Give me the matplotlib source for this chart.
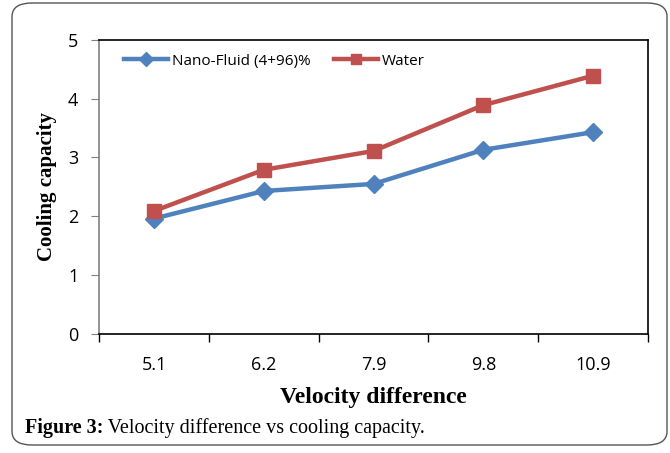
import matplotlib.pyplot as plt
from matplotlib.patches import FancyBboxPatch

categories = ['5.1', '6.2', '7.9', '9.8', '10.9']
nano = [1.96, 2.43, 2.55, 3.13, 3.43]
water = [2.09, 2.79, 3.11, 3.89, 4.39]

fig = plt.figure(figsize=(6.7, 4.53), dpi=100)
ax = fig.add_axes([0.148, 0.263, 0.819, 0.649])

x = list(range(len(categories)))
ax.plot(x, nano, color='#4F81BD', lw=3.2, marker='D', ms=9, label='Nano-Fluid (4+96)%')
ax.plot(x, water, color='#C0504D', lw=3.2, marker='s', ms=10, label='Water')

ax.set_xlim(-0.5, 4.5)
ax.set_ylim(0, 5)
ax.set_yticks(range(6))
ax.set_xticks(x)
ax.set_xticklabels(categories)
ax.set_xticks([i - 0.5 for i in range(6)], minor=True)
ax.tick_params(axis='x', which='major', length=0, pad=16, labelsize=13)
ax.tick_params(axis='x', which='minor', length=6, width=1, color='black', direction='out')
ax.tick_params(axis='y', length=6, color='#808080', labelsize=13, pad=9)
for lbl in ax.get_xticklabels() + ax.get_yticklabels():
    lbl.set_family('Open Sans')

for s in ['top', 'right', 'bottom']:
    ax.spines[s].set_color('black')
    ax.spines[s].set_linewidth(1.2)
ax.spines['left'].set_color('#808080')
ax.spines['left'].set_linewidth(1.2)

ax.set_ylabel('Cooling capacity', family='Liberation Serif', weight='bold', fontsize=15, labelpad=8)
ax.set_xlabel('Velocity difference', family='Liberation Serif', weight='bold', fontsize=17, labelpad=9)

leg = ax.legend(loc='upper left', ncol=2, frameon=False, prop={'family': 'Open Sans', 'size': 11},
                handlelength=2.9, handletextpad=0.25, columnspacing=1.5, bbox_to_anchor=(0.02, 1.0))
for h in leg.legend_handles:
    h.set_markersize(7)

box = FancyBboxPatch((12 / 670, 8 / 453), 655 / 670, 442 / 453, transform=fig.transFigure,
                     boxstyle='round,pad=0,rounding_size=0.03', fill=False, ec='#555555', lw=1)
fig.patches.append(box)

t1 = fig.text(25 / 670, 1 - 428 / 453, 'Figure 3:', family='Liberation Serif', weight='bold',
              fontsize=14.5, va='center')
ax.annotate(' Velocity difference vs cooling capacity.', xy=(1, 0.5), xycoords=t1,
            va='center', ha='left', family='Liberation Serif', fontsize=14.5, annotation_clip=False)

fig.savefig('out.png', dpi=100)
